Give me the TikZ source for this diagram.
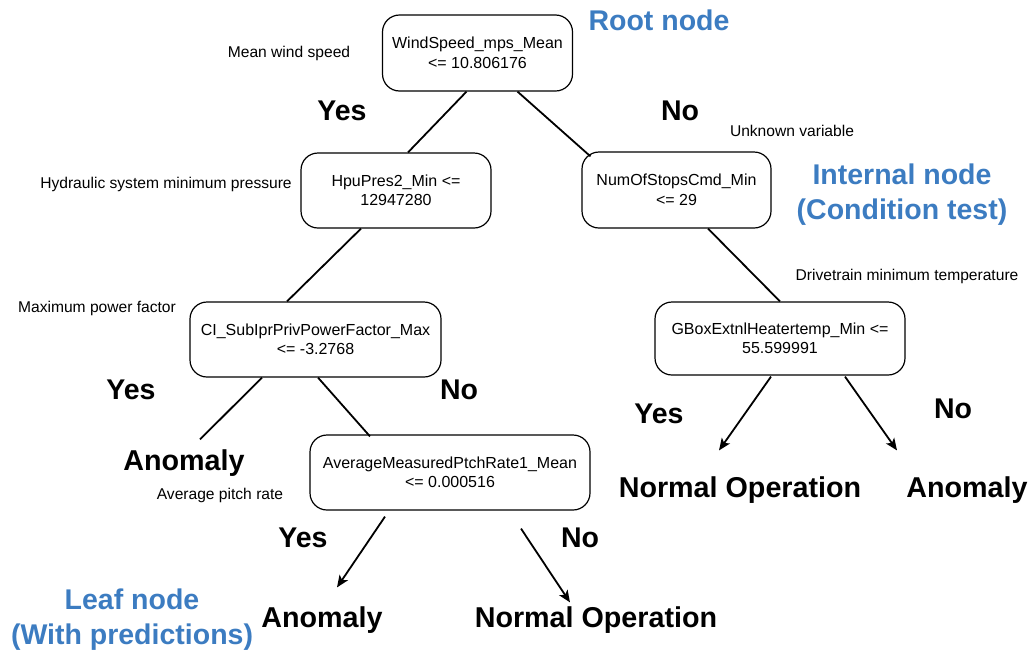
\documentclass[tikz,border=0pt]{standalone}
\usepackage{fontspec}
\setmainfont{Liberation Sans}
\usetikzlibrary{arrows.meta}
\definecolor{labelblue}{RGB}{60,124,193}
\tikzset{
  testbox/.style={draw, rounded corners=17pt, line width=1.2pt, align=center, inner sep=0pt,
    font=\fontsize{16}{19.5}\selectfont},
  leaf/.style={anchor=base, inner sep=0pt, font=\fontsize{28.7}{35}\selectfont\bfseries},
  answer/.style={anchor=base, inner sep=0pt, font=\fontsize{28.5}{35}\selectfont\bfseries},
  note/.style={anchor=base, inner sep=0pt, font=\fontsize{15.6}{19.5}\selectfont},
  kind/.style={inner sep=0pt, align=center, text=labelblue, font=\fontsize{28.5}{35}\selectfont\bfseries},
  branch/.style={line width=1.8pt},
  predict/.style={line width=1.8pt, -{Stealth[length=12pt,width=10pt,inset=3pt]}}
}
\begin{document}
\begin{tikzpicture}[x=1pt,y=-1pt]
\useasboundingbox (0,0) rectangle (1032,651);
% decision boxes
\node[testbox, minimum width=190pt, minimum height=76pt] (root) at (477.5,53) {WindSpeed\_mps\_Mean\\<= 10.806176};
\node[testbox, minimum width=190pt, minimum height=75pt] (hpu) at (396,190.5) {HpuPres2\_Min <=\\12947280};
\node[testbox, minimum width=189pt, minimum height=76pt] (num) at (676.5,190) {NumOfStopsCmd\_Min\\<= 29};
\node[testbox, minimum width=251pt, minimum height=75pt] (ci) at (315.5,339.5) {CI\_SubIprPrivPowerFactor\_Max\\<= -3.2768};
\node[testbox, minimum width=250pt, minimum height=73pt] (gbox) at (780,338.5) {GBoxExtnlHeatertemp\_Min <=\\55.599991};
\node[testbox, minimum width=280pt, minimum height=75pt] (avg) at (450,472.5) {AverageMeasuredPtchRate1\_Mean\\<= 0.000516};
% leaves
\node[leaf] (anomA) at (184,470) {Anomaly};
\node[leaf] (anomB) at (322,627) {Anomaly};
\node[leaf] (normB) at (596,627) {Normal Operation};
\node[leaf] (normC) at (740,497) {Normal Operation};
\node[leaf] (anomC) at (967,497) {Anomaly};
% yes / no
\node[answer] (yes1) at (342,120) {Yes};
\node[answer] (no1) at (680,120) {No};
\node[answer] (yes2) at (131,399) {Yes};
\node[answer] (no2) at (459,399) {No};
\node[answer] (yes3) at (303,547) {Yes};
\node[answer] (no3) at (580,547) {No};
\node[answer] (yes4) at (659,423) {Yes};
\node[answer] (no4) at (953,418) {No};
% variable notes
\node[note] (n1) at (289,57.6) {Mean wind speed};
\node[note] (n2) at (792,136.6) {Unknown variable};
\node[note] (n3) at (166,188.6) {Hydraulic system minimum pressure};
\node[note] (n4) at (907,280.6) {Drivetrain minimum temperature};
\node[note] (n5) at (97,312.6) {Maximum power factor};
\node[note] (n6) at (220,499.6) {Average pitch rate};
% kind labels
\node[kind] (kroot) at (659,20) {Root node};
\node[kind] (kint) at (902,194.5) {Internal node\\(Condition test)};
\node[kind] (kleaf) at (132,619.5) {Leaf node\\(With predictions)};
% connectors
\draw[branch] ([xshift=-11pt]root.south) -- ([xshift=12pt]hpu.north);
\draw[branch] ([xshift=40pt]root.south) -- ([xshift=-86pt,yshift=-5pt]num.north);
\draw[branch] ([xshift=-35pt]hpu.south) -- ([xshift=-28.5pt]ci.north);
\draw[branch] ([xshift=31.5pt]num.south) -- (gbox.north);
\draw[branch] ([xshift=-53.5pt]ci.south) -- ([xshift=16pt,yshift=9.6pt]anomA.north);
\draw[branch] ([xshift=2.5pt]ci.south) -- ([xshift=-80pt,yshift=-2pt]avg.north);
\draw[predict] ([xshift=-65pt,yshift=-6pt]avg.south) -- ([xshift=15pt,yshift=18.6pt]anomB.north);
\draw[predict] ([xshift=71pt,yshift=-18pt]avg.south) -- ([xshift=-26pt,yshift=3.6pt]normB.north);
\draw[predict] ([xshift=-9pt,yshift=-1pt]gbox.south) -- ([xshift=-21pt,yshift=25.6pt]normC.north);
\draw[predict] ([xshift=65pt,yshift=-1pt]gbox.south) -- ([xshift=-70pt,yshift=25.6pt]anomC.north);
\end{tikzpicture}
\end{document}
